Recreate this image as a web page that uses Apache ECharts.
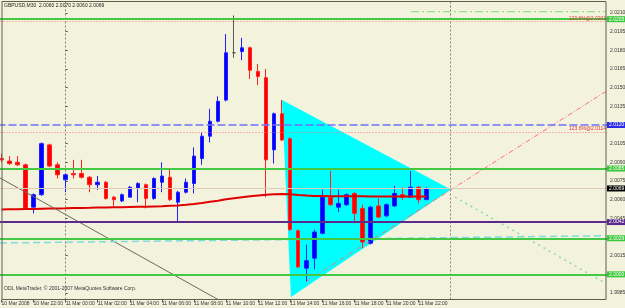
<!DOCTYPE html>
<html>
<head>
<meta charset="utf-8">
<style>
  html, body { margin: 0; padding: 0; background: #f3f3dd; }
  #chart { width: 625px; height: 308px; }
</style>
</head>
<body>
<div id="chart"></div>
<script src="https://cdn.jsdelivr.net/npm/echarts@6/dist/echarts.min.js"></script>
<script>
// GBPUSD M30, bars from 10 Mar 20:00 to 11 Mar 22:30
const opens = [2.0093, 2.0091, 2.0090, 2.0088, 2.0054, 2.0064, 2.0104, 2.0088, 2.0076, 2.0081,
  2.0081, 2.0078, 2.0072, 2.0074, 2.0062, 2.0059, 2.0062, 2.0069, 2.0072, 2.0061,
  2.0074, 2.0078, 2.0058, 2.0066, 2.0073, 2.0093, 2.0111, 2.0123, 2.0140, 2.0178,
  2.0179, 2.0182, 2.0163, 2.0158, 2.0100, 2.0129, 2.0109, 2.0035, 2.0005, 2.0013,
  2.0033, 2.0062, 2.0054, 2.0056, 2.0065, 2.0053, 2.0025, 2.0055, 2.0047, 2.0055,
  2.0064, 2.0062, 2.0070, 2.0060]
const highs = [2.0097, 2.0095, 2.0095, 2.0089, 2.0065, 2.0106, 2.0105, 2.0090, 2.0081, 2.0092,
  2.0092, 2.0079, 2.0079, 2.0075, 2.0063, 2.0065, 2.0071, 2.0074, 2.0073, 2.0078,
  2.0090, 2.0085, 2.0067, 2.0077, 2.0102, 2.0114, 2.0133, 2.0143, 2.0193, 2.0208,
  2.0190, 2.0183, 2.0169, 2.0165, 2.0130, 2.0140, 2.0110, 2.0036, 2.0024, 2.0036,
  2.0068, 2.0083, 2.0068, 2.0065, 2.0066, 2.0056, 2.0055, 2.0061, 2.0057, 2.0071,
  2.0070, 2.0083, 2.0071, 2.0070]
const lows = [2.0090, 2.0088, 2.0087, 2.0052, 2.0049, 2.0063, 2.0086, 2.0077, 2.0066, 2.0077,
  2.0077, 2.0066, 2.0068, 2.0060, 2.0055, 2.0058, 2.0062, 2.0058, 2.0053, 2.0060,
  2.0066, 2.0059, 2.0042, 2.0065, 2.0065, 2.0088, 2.0106, 2.0122, 2.0139, 2.0174,
  2.0172, 2.0157, 2.0152, 2.0062, 2.0089, 2.0107, 2.0035, 2.0005, 1.9994, 2.0004,
  2.0032, 2.0055, 2.0050, 2.0055, 2.0041, 2.0021, 2.0024, 2.0045, 2.0046, 2.0054,
  2.0060, 2.0062, 2.0057, 2.0060]
const closes = [2.0092, 2.0089, 2.0088, 2.0053, 2.0064, 2.0105, 2.0087, 2.0080, 2.0080, 2.0080,
  2.0078, 2.0072, 2.0074, 2.0061, 2.0060, 2.0064, 2.0070, 2.0073, 2.0061, 2.0077,
  2.0079, 2.0060, 2.0066, 2.0074, 2.0095, 2.0111, 2.0123, 2.0139, 2.0178, 2.0178,
  2.0182, 2.0164, 2.0159, 2.0092, 2.0129, 2.0108, 2.0036, 2.0006, 2.0011, 2.0034,
  2.0062, 2.0056, 2.0057, 2.0064, 2.0049, 2.0026, 2.0054, 2.0046, 2.0056, 2.0065,
  2.0062, 2.0070, 2.0060, 2.0069]
// moving average
const maValues = [2.00521, 2.00523, 2.00524, 2.00525, 2.00526, 2.00528, 2.00529, 2.00530, 2.00531, 2.00533,
  2.00534, 2.00535, 2.00537, 2.00538, 2.00539, 2.00540, 2.00542, 2.00543, 2.00544, 2.00546,
  2.00548, 2.00551, 2.00554, 2.00559, 2.00565, 2.00573, 2.00583, 2.00592, 2.00603, 2.00612,
  2.00620, 2.00627, 2.00633, 2.00639, 2.00643, 2.00645, 2.00643, 2.00637, 2.00633, 2.00630,
  2.00629, 2.00628, 2.00628, 2.00627, 2.00627, 2.00627, 2.00626, 2.00626, 2.00626, 2.00626,
  2.00625, 2.00625, 2.00625, 2.00625]

// x axis: bar slots incl. empty shift on the right
const slotCount = 76
const categories = []
for (let i = 0; i < slotCount; i++) {
  const m = 20 * 60 + i * 30
  const day = 10 + Math.floor(m / 1440)
  const mm = m % 1440
  categories.push(day + ' Mar ' + String(Math.floor(mm / 60)).padStart(2, '0') + ':' + String(mm % 60).padStart(2, '0'))
}
const firstLabel = '10 Mar 2008'
const xTickLabels = ['10 Mar 22:00', '11 Mar 00:00', '11 Mar 02:00', '11 Mar 04:00', '11 Mar 06:00',
  '11 Mar 08:00', '11 Mar 10:00', '11 Mar 12:00', '11 Mar 14:00', '11 Mar 16:00',
  '11 Mar 18:00', '11 Mar 20:00', '11 Mar 22:00']
const separatorTimes = ['11 Mar 00:00', '12 Mar 00:00']
const yTickLabels = [2.0210, 2.0195, 2.0180, 2.0165, 2.0150, 2.0135, 2.0105, 2.0090, 2.0075, 2.0060, 2.0045, 2.0015, 1.9985]

// horizontal levels with price boxes
const levelValues = [2.0205, 2.0120, 2.0085, 2.0069, 2.0042, 2.0029, 2.0000]
const levelKinds = ['green', 'blue', 'green', 'bid', 'purple', 'green', 'green']
const fibValues = [2.0203, 2.0114]
const fibLabels = ['123.6%@2.0203', '123.6%@2.0114']

// drawn objects (x in bar units, 0 = 11 Mar 00:00 bar, i.e. slot index - 8)
const triangleX = [26.97, 28.09, 48.04]
const triangleY = [2.01401, 1.99818, 2.00682]
const grayTrendX = [-8.19, 20]
const grayTrendY = [2.00774, 1.99762]
const redTrendX = [30.0, 67.37]
const redTrendY = [1.99943, 2.01470]
const greenTrendX = [48.54, 67.37]
const greenTrendY = [2.00621, 1.99927]
const cyanTrendX = [-8.19, 67.37]
const cyanTrendY = [2.00252, 2.00310]
const topDashX = [43.06, 67.37]
const topDashY = [2.0211, 2.0211]

const kindStyle = {
  green: { line: '#44c944', width: 2, type: 'solid', box: '#3cc83c', text: '#fff' },
  blue: { line: '#7070ff', width: 1.5, type: [8, 3], box: '#2a2ae6', text: '#fff' },
  bid: { line: '#dccbb8', width: 1, type: 'solid', box: '#000', text: '#fff' },
  purple: { line: '#5b2a8c', width: 2, type: 'solid', box: '#5b2a8c', text: '#fff' }
}

const font = 'Liberation Sans'
const chart = echarts.init(document.getElementById('chart'))

const pairs = (xs, ys) => xs.map((x, i) => [x, ys[i]])
const trend = (xs, ys, color, type, width) => ({
  type: 'line',
  xAxisIndex: 1,
  data: pairs(xs, ys),
  showSymbol: false,
  silent: true,
  z: 4,
  lineStyle: { color: color, type: type, width: width }
})

const levelLines = levelValues.map((v, i) => {
  const s = kindStyle[levelKinds[i]]
  return {
    yAxis: v,
    lineStyle: { color: s.line, width: s.width, type: s.type },
    label: {
      show: true,
      position: 'end',
      distance: 0,
      formatter: v.toFixed(4),
      backgroundColor: s.box,
      color: s.text,
      padding: [1, 3, 0, 2],
      fontSize: 5,
      fontFamily: font
    }
  }
})
const fibLines = fibValues.map((v, i) => ({
  yAxis: v,
  lineStyle: { color: '#ff7070', width: 1, type: [1, 2] },
  label: {
    show: true,
    position: 'insideEndTop',
    distance: 1,
    formatter: fibLabels[i],
    color: '#e03030',
    fontSize: 5,
    fontFamily: font
  }
}))

const showTick = (index, value) => index === 0 || xTickLabels.indexOf(value) >= 0
const last = opens.length - 1

const option = {
  animation: false,
  backgroundColor: '#f3f3dd',
  grid: { left: -2.5, right: 18, top: 2, bottom: 8.5, containLabel: false, outerBoundsMode: 'none' },
  xAxis: [
    {
      type: 'category',
      data: categories,
      boundaryGap: true,
      axisLine: { show: false },
      axisTick: { show: true, interval: showTick, alignWithLabel: true, length: 3, lineStyle: { color: '#555' } },
      axisLabel: {
        interval: showTick,
        formatter: (value, index) => index === 0 ? firstLabel : value,
        align: 'left',
        margin: 2,
        fontSize: 5,
        fontFamily: font,
        color: '#333'
      },
      splitLine: { show: false }
    },
    { type: 'value', min: -8.5, max: 67.5, show: false }
  ],
  yAxis: {
    type: 'value',
    position: 'right',
    min: 1.99798,
    max: 2.02188,
    splitLine: { show: false },
    axisLine: { show: false },
    axisTick: { show: true, customValues: yTickLabels, length: 2, lineStyle: { color: '#555' } },
    axisLabel: {
      customValues: yTickLabels,
      formatter: v => v.toFixed(4),
      margin: 3,
      fontSize: 5,
      fontFamily: font,
      color: '#333'
    }
  },
  graphic: [
    {
      type: 'rect',
      shape: { x: 2, y: 1.5, width: 604, height: 298 },
      style: { fill: null, stroke: '#5d5d4e', lineWidth: 1 },
      z: 100
    },
    {
      type: 'text',
      left: 4, top: 3,
      style: {
        text: 'GBPUSD,M30  ' + [opens[last], highs[last], lows[last], closes[last]].map(v => v.toFixed(4)).join(' '),
        fontSize: 5, fontFamily: font, fill: '#222'
      },
      z: 100
    },
    {
      type: 'text',
      left: 4, top: 286,
      style: { text: 'ODL MetaTrader, © 2001-2007 MetaQuotes Software Corp.', fontSize: 5, fontFamily: font, fill: '#333' },
      z: 100
    }
  ],
  series: [
    {
      // day separators
      type: 'line',
      data: [],
      silent: true,
      z: 0,
      markLine: {
        z: 0,
        silent: true,
        symbol: ['none', 'none'],
        label: { show: false },
        lineStyle: { color: '#8a8070', type: [2, 2], width: 1 },
        data: separatorTimes.map(t => ({ xAxis: t }))
      }
    },
    {
      type: 'custom',
      xAxisIndex: 1,
      z: 1,
      silent: true,
      clip: true,
      data: pairs(triangleX, triangleY),
      renderItem: (params, api) => {
        if (params.dataIndex !== 0) return
        const pts = triangleX.map((x, i) => api.coord([x, triangleY[i]]))
        return { type: 'polygon', shape: { points: pts }, style: { fill: '#00ffff', stroke: null } }
      }
    },
    {
      type: 'candlestick',
      data: opens.map((o, i) => [o, closes[i], lows[i], highs[i]]),
      barWidth: 4,
      z: 2,
      itemStyle: {
        color: '#0000ff',
        color0: '#ff0000',
        borderColor: '#2020ff',
        borderColor0: '#ff2020',
        borderColorDoji: '#5a5a5a',
        borderWidth: 1
      }
    },
    {
      type: 'line',
      data: maValues,
      showSymbol: false,
      silent: true,
      z: 3,
      lineStyle: { color: '#e00000', width: 2 }
    },
    {
      // horizontal levels
      type: 'line',
      data: [],
      silent: true,
      z: 5,
      markLine: {
        z: 5,
        silent: true,
        precision: 6,
        symbol: ['none', 'none'],
        data: fibLines.concat(levelLines)
      }
    },
    trend(grayTrendX, grayTrendY, '#6a6a5e', 'solid', 1),
    trend(cyanTrendX, cyanTrendY, '#7fdcdc', [7, 4], 1.5),
    trend(redTrendX, redTrendY, '#ff7070', [5, 2, 1, 2], 1),
    trend(greenTrendX, greenTrendY, '#90dd90', [2, 4], 1.5),
    trend(topDashX, topDashY, '#80d880', [8, 3, 2, 3], 1)
  ]
}

chart.setOption(option)
</script>
</body>
</html>
